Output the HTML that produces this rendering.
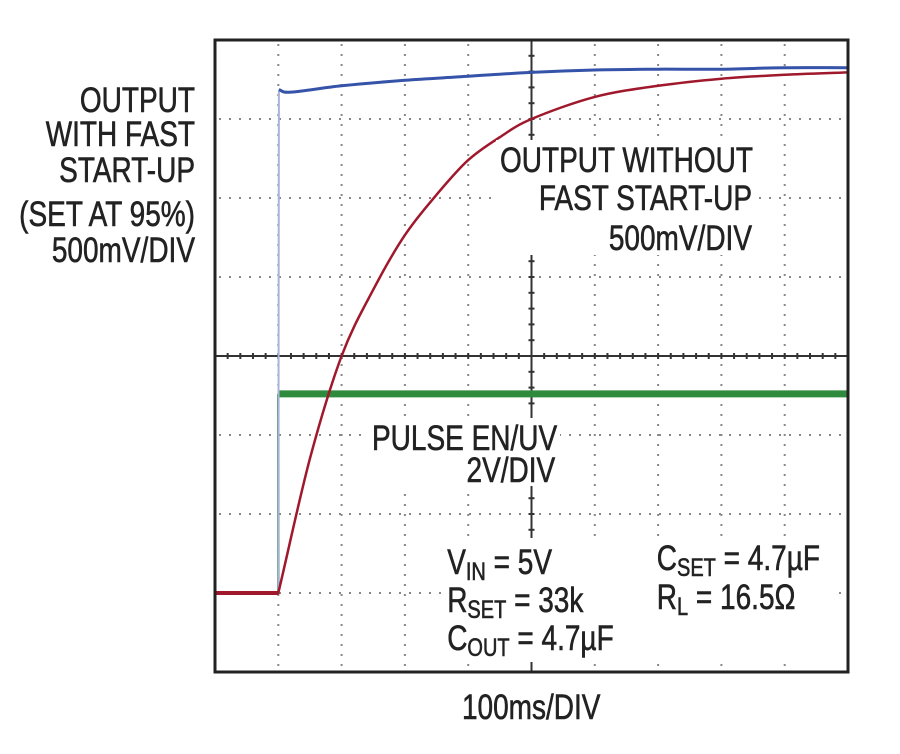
<!DOCTYPE html>
<html><head><meta charset="utf-8"><style>
html,body{margin:0;padding:0;background:#fff;}
svg{display:block;}
text{font-family:"Liberation Sans",sans-serif;font-size:35px;fill:#222;stroke:#222;stroke-width:0.6px;}
</style></head><body>
<svg id="chart" width="900" height="754" viewBox="0 0 900 754" xmlns="http://www.w3.org/2000/svg">
<g id="grid"></g>
<g id="traces"></g>
<rect x="215" y="40" width="633" height="632" fill="none" stroke="#222" stroke-width="3"/>
<g fill="#fff">
<rect x="496" y="140" width="262" height="115"/>
<rect x="368" y="418" width="192" height="68"/>
<rect x="442" y="538" width="392" height="124"/>
</g>
<g id="labels" transform="scale(0.8,1)">
<text x="243.75" y="112" text-anchor="end">OUTPUT</text>
<text x="243.75" y="146" text-anchor="end">WITH FAST</text>
<text x="243.75" y="182" text-anchor="end">START-UP</text>
<text x="243.75" y="226" text-anchor="end">(SET AT 95%)</text>
<text x="243.75" y="262" text-anchor="end">500mV/DIV</text>
<text x="625" y="172">OUTPUT WITHOUT</text>
<text x="940" y="210" text-anchor="end">FAST START-UP</text>
<text x="940" y="250" text-anchor="end">500mV/DIV</text>
<text x="465" y="450">PULSE EN/UV</text>
<text x="694" y="482" text-anchor="end">2V/DIV</text>
<text x="559" y="574">V<tspan font-size="25" dy="6">IN</tspan><tspan dy="-6"> = 5V</tspan></text>
<text x="559" y="612">R<tspan font-size="25" dy="6">SET</tspan><tspan dy="-6"> = 33k</tspan></text>
<text x="559" y="650">C<tspan font-size="25" dy="6">OUT</tspan><tspan dy="-6"> = 4.7µF</tspan></text>
<text x="821" y="570">C<tspan font-size="25" dy="6">SET</tspan><tspan dy="-6"> = 4.7µF</tspan></text>
<text x="821" y="609">R<tspan font-size="25" dy="6">L</tspan><tspan dy="-6"> = 16.5Ω</tspan></text>
<text x="664" y="719" text-anchor="middle">100ms/DIV</text>
</g>
</svg>
<script>
// time in divisions, values in divisions relative to center line (+ up)
const redT = [0, 1, 1.5, 2, 2.5, 3, 3.5, 4, 4.5, 5, 6, 7, 8, 9, 10];
const redV = [-3.0, -3.0, -1.3, 0, 0.84, 1.53, 2.04, 2.48, 2.77, 3.0, 3.28, 3.42, 3.51, 3.56, 3.59];
const blueT = [1, 1.01, 1.2, 2, 3, 4, 5, 6, 7, 8, 9, 10];
const blueV = [-3.0, 3.37, 3.34, 3.42, 3.49, 3.54, 3.59, 3.62, 3.63, 3.63, 3.65, 3.65];
const greenT = [0, 1, 1.0, 10];
const greenV = [-3.0, -3.0, -0.48, -0.48];
const X0 = 215, DX = 63.3, YC = 356, DY = 79;
function xs(t){ return X0 + t*DX; }
function ys(v){ return YC - v*DY; }
const NS = "http://www.w3.org/2000/svg";
const grid = document.getElementById('grid');
const traces = document.getElementById('traces');
function line(parent, x1,y1,x2,y2,stroke,w,dash){
  const l = document.createElementNS(NS,'line');
  l.setAttribute('x1',x1);l.setAttribute('y1',y1);l.setAttribute('x2',x2);l.setAttribute('y2',y2);
  l.setAttribute('stroke',stroke);l.setAttribute('stroke-width',w);
  if(dash) l.setAttribute('stroke-dasharray',dash);
  parent.appendChild(l); return l;
}
for(let i=1;i<10;i++){
  if(i===5) continue;
  const l = line(grid, xs(i), 44, xs(i), 668, '#888', 2, '2 8');
  
  
}
for(let j=-3;j<=3;j++){
  if(j===0) continue;
  const l = line(grid, 219, ys(j), 844, ys(j), '#888', 2, '2 8');
  
  
}
const ax1 = line(grid, xs(5), 40, xs(5), 672, '#333', 2);


const ax2 = line(grid, 215, YC, 848, YC, '#333', 2);


for(let k=1;k<50;k++){
  const t = line(grid, xs(k/5), YC-3, xs(k/5), YC+3, '#333', 2);
  
  
}
for(let k=1;k<40;k++){
  const t = line(grid, xs(5)-3, 40+k*DY/5, xs(5)+3, 40+k*DY/5, '#333', 2);
  
  
}
function path(T,V,color,w,name){
  let d='';
  for(let i=0;i<T.length;i++){ d += (i?'L':'M') + xs(T[i]).toFixed(1) + ' ' + ys(V[i]).toFixed(1) + ' '; }
  const p = document.createElementNS(NS,'path');
  p.setAttribute('d',d);p.setAttribute('fill','none');p.setAttribute('stroke',color);
  p.setAttribute('stroke-width',w);p.setAttribute('stroke-linejoin','round');
  
  
  traces.appendChild(p);
}
function smoothPath(T,V,color,w,name,skipFirst){
  const P = T.map((t,i)=>[xs(t),ys(V[i])]);
  const start = skipFirst ? 1 : 0;
  let d='M'+P[0][0]+' '+P[0][1];
  if(skipFirst) d+=' L'+P[1][0]+' '+P[1][1];
  for(let i=start;i<P.length-1;i++){
    const p1=P[i],p2=P[i+1];
    const p0 = i>start ? P[i-1] : [2*p1[0]-p2[0],2*p1[1]-p2[1]];
    const p3 = i+2<P.length ? P[i+2] : [2*p2[0]-p1[0],2*p2[1]-p1[1]];
    const c1=[p1[0]+(p2[0]-p0[0])/6,p1[1]+(p2[1]-p0[1])/6],c2=[p2[0]-(p3[0]-p1[0])/6,p2[1]-(p3[1]-p1[1])/6];
    d+=' C'+c1[0].toFixed(1)+' '+c1[1].toFixed(1)+' '+c2[0].toFixed(1)+' '+c2[1].toFixed(1)+' '+p2[0].toFixed(1)+' '+p2[1].toFixed(1);
  }
  const p = document.createElementNS(NS,'path');
  p.setAttribute('d',d);p.setAttribute('fill','none');p.setAttribute('stroke',color);p.setAttribute('stroke-width',w);
  
  
  traces.appendChild(p);
}
path(greenT.slice(0,3), greenV.slice(0,3), '#2e8b3e', 2.5, 'pulse-en-uv-edge');
path(greenT.slice(2), greenV.slice(2), '#2e8b3e', 7, 'pulse-en-uv-trace');
path(blueT.slice(0,2), blueV.slice(0,2), '#aab4d8', 2, 'fast-output-rise');
smoothPath(blueT.slice(1), blueV.slice(1), '#3553a8', 3, 'output-fast-startup-trace', false);
smoothPath(redT, redV, '#a0182c', 2.5, 'output-without-fast-startup-trace', true);
path(redT.slice(0,2), redV.slice(0,2), '#a0182c', 4, 'output-baseline');
</script>
</body></html>
